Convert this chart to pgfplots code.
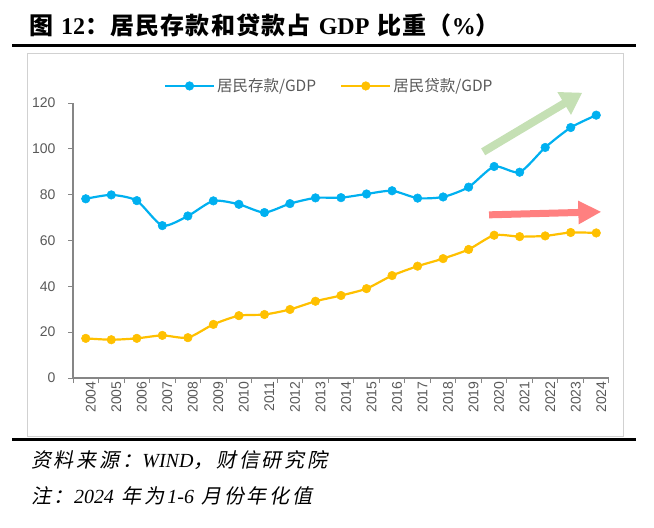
\documentclass[border=0pt]{standalone}
\usepackage{pgfplots}
\pgfplotsset{compat=1.18}
\usepackage{fontspec}
\usetikzlibrary{arrows.meta}
\setmainfont{Liberation Sans}
\newfontfamily\cjk{Noto Sans CJK SC}
\newfontfamily\cjkt{Noto Sans CJK SC}[LetterSpace=5]
\newfontfamily\cjkit{Noto Sans CJK SC}[FakeSlant=0.2, LetterSpace=14]
\newfontfamily\tnr{Liberation Serif}
\definecolor{blueS}{HTML}{00B0F0}
\definecolor{yellowS}{HTML}{FFC000}
\definecolor{greenA}{HTML}{C5E0B4}
\definecolor{redA}{HTML}{FF8080}
\definecolor{txtgrey}{HTML}{595959}
\definecolor{axgrey}{HTML}{868686}
\begin{document}
\begin{tikzpicture}
\useasboundingbox (0,0) rectangle (654pt,-528pt);
\node[anchor=base west, inner sep=0] at (29pt,-34pt) {\fontsize{24}{26}\selectfont\cjkt\bfseries 图\,\,{\tnr\bfseries 12}：居民存款和贷款占\,\,{\tnr\bfseries GDP}\,\,比重（{\tnr\bfseries\%}）};
\draw[line width=3pt] (12pt,-45.5pt) -- (636pt,-45.5pt);
\draw[black!18, line width=1pt] (27pt,-53pt) rectangle (623pt,-436pt);
\draw[line width=3pt] (12pt,-439.5pt) -- (636pt,-439.5pt);
\node[anchor=base west, inner sep=0] at (31pt,-467pt) {\fontsize{20}{22}\selectfont\cjkit 资料来源：{\tnr\itshape WIND}，财信研究院};
\node[anchor=base west, inner sep=0] at (31pt,-503pt) {\fontsize{20}{22}\selectfont\cjkit 注：{\tnr\itshape 2024} 年为\,{\tnr\itshape 1-6} 月份年化值};
\begin{axis}[
  at={(73pt,-378pt)}, anchor=south west,
  scale only axis, width=536pt, height=275pt,
  xmin=2003.5, xmax=2024.5, ymin=0, ymax=120,
  axis x line*=bottom, axis y line*=left,
  axis line style={draw=axgrey, line width=1.1pt},
  clip=false,
  tick align=outside, major tick length=5pt,
  every tick/.style={draw=axgrey, line width=1pt},
  ytick={0,20,...,120},
  yticklabel style={xshift=-9pt},
  xtick={2003.5,2004.5,...,2024.5}, xticklabels={},
  extra x ticks={2004,2005,...,2024},
  extra x tick style={major tick length=0pt, tick label style={rotate=90, anchor=east, yshift=-5pt}},
  /pgf/number format/1000 sep={},
  /pgf/number format/assume math mode=true,
  tick label style={font=\fontsize{14}{16}\selectfont, text=txtgrey},
  legend columns=2,
  legend style={at={(0.478,1.062)}, anchor=center, draw=none, fill=none,
    font=\fontsize{15.5}{17}\selectfont\cjk, text=txtgrey,
    /tikz/every even column/.append style={column sep=22pt}},
  legend image code/.code={\draw[mark repeat=2, mark phase=2, #1] plot coordinates {(0pt,0pt) (24.5pt,0pt) (49pt,0pt)};},
]
\addplot[blueS, line width=2.2pt, smooth, tension=0.4, mark=*, mark size=4.3pt, mark options={solid, fill=blueS, draw=blueS, line width=0.5pt}] coordinates {
(2004,78.2) (2005,79.9) (2006,77.4) (2007,66.5) (2008,70.7) (2009,77.3) (2010,75.8) (2011,72.2) (2012,76.1) (2013,78.6) (2014,78.7) (2015,80.3) (2016,81.7) (2017,78.5) (2018,79.0) (2019,83.3) (2020,92.3) (2021,89.8) (2022,100.6) (2023,109.3) (2024,114.7)};
\addlegendentry{居民存款/GDP}
\addplot[yellowS, line width=2.2pt, smooth, tension=0.4, mark=*, mark size=4.3pt, mark options={solid, fill=yellowS, draw=yellowS, line width=0.5pt}] coordinates {
(2004,17.3) (2005,16.7) (2006,17.3) (2007,18.6) (2008,17.6) (2009,23.4) (2010,27.2) (2011,27.7) (2012,29.9) (2013,33.5) (2014,36.0) (2015,39.0) (2016,44.7) (2017,48.8) (2018,52.1) (2019,56.1) (2020,62.3) (2021,61.7) (2022,62.0) (2023,63.5) (2024,63.3)};
\addlegendentry{居民贷款/GDP}
\draw[draw=greenA, line width=8pt, -{Triangle[length=21pt,width=25pt]}] (axis cs:2019.57,98.7) -- (axis cs:2023.45,124.5);
\draw[draw=redA, line width=7pt, -{Triangle[length=23pt,width=22pt]}] (axis cs:2019.8,71.2) -- (axis cs:2024.2,72.5);
\end{axis}
\end{tikzpicture}
\end{document}
